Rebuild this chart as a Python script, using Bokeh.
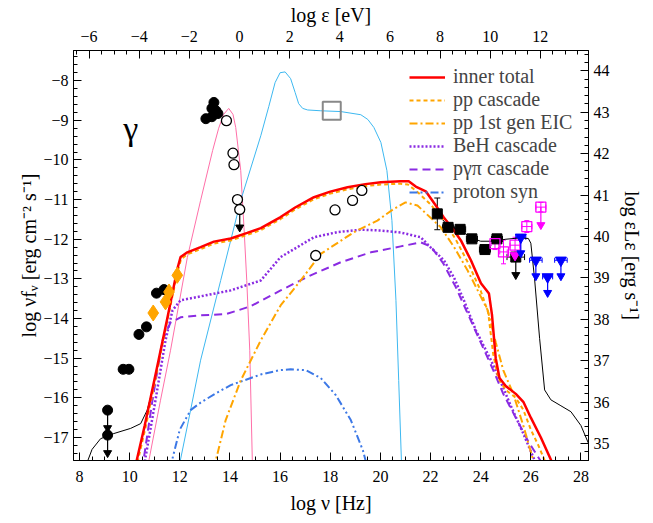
import numpy as np
from bokeh.plotting import figure
from bokeh.models import (Range1d, LinearAxis, SingleIntervalTicker, Legend, LegendItem,
                          ColumnDataSource, Whisker, TeeHead)
from bokeh.core.properties import value
from bokeh.embed import file_html
from bokeh.resources import INLINE

FONT = "Liberation Serif"
X0, X1 = 7.76, 28.3
Y0, Y1 = -17.58, -7.24
EV_OFFSET = 14.38
R0, R1 = 34.59, 44.49

# ---------------- model curves (log nu, log nuFnu) ----------------
red_x = [10.2, 10.6, 11.07, 11.5, 11.9, 12.03, 12.3, 12.83, 13.36, 14.03, 14.69, 15.23, 16.02, 16.6,
         17.35, 18.0, 18.69, 19.4, 20.02, 20.8, 21.13, 21.41, 21.81, 22.21, 22.53, 22.9, 23.21, 23.61,
         24.01, 24.33, 24.45, 24.6, 24.75, 25.0, 25.4, 25.7, 26.0, 26.4, 26.9]
red_y = [-17.8, -16.7, -15.3, -14.0, -12.75, -12.45, -12.33, -12.2, -12.06, -11.98, -11.84, -11.72, -11.44, -11.2,
         -10.94, -10.8, -10.69, -10.61, -10.56, -10.54, -10.54, -10.67, -10.79, -11.15, -11.45, -11.75, -12.03, -12.53,
         -13.11, -13.37, -13.9, -15.0, -15.5, -15.7, -15.9, -16.1, -16.5, -17.0, -17.7]

ppc_x = [10.25, 10.65, 11.1, 11.5, 11.92, 12.05, 12.3, 12.83, 13.36, 14.03, 14.69, 15.23, 16.02, 16.6,
         17.35, 18.0, 18.69, 19.4, 20.02, 20.8, 21.1, 21.5, 22.0, 22.5, 23.0, 23.5, 24.0, 24.3, 24.5,
         24.7, 25.0, 25.4, 25.7, 26.0, 26.3, 26.7]
ppc_y = [-17.8, -16.7, -15.3, -14.05, -12.8, -12.5, -12.38, -12.25, -12.11, -12.03, -11.89, -11.77, -11.49, -11.25,
         -10.99, -10.85, -10.74, -10.66, -10.62, -10.6, -10.62, -10.82, -11.12, -11.5, -12.0, -12.6, -13.3, -13.85, -14.9,
         -15.5, -15.8, -16.0, -16.3, -16.8, -17.2, -17.8]

eic_x = [13.35, 13.83, 14.43, 15.23, 16.02, 16.82, 17.62, 18.95, 19.88, 20.5, 21.0, 21.48, 22.41, 22.94,
         23.48, 23.88, 24.28, 24.6, 24.9, 25.3, 25.7, 26.2]
eic_y = [-17.8, -16.56, -15.56, -14.55, -13.67, -13.04, -12.37, -11.82, -11.53, -11.25, -11.07, -11.15, -11.7, -12.2,
         -12.79, -13.29, -13.79, -14.6, -15.3, -15.9, -16.7, -17.8]

beh_x = [10.55, 11.03, 11.43, 11.71, 12.03, 12.83, 14.03, 15.23, 16.02, 17.35, 18.29, 19.22, 20.02, 20.81,
         21.61, 22.01, 22.53, 22.93, 23.33, 23.81, 24.41, 24.8, 25.2, 25.7, 26.3]
beh_y = [-17.8, -16.06, -14.55, -13.79, -13.54, -13.44, -13.29, -13.04, -12.45, -11.95, -11.82, -11.76, -11.78, -11.83,
         -11.95, -12.21, -12.53, -12.96, -13.54, -14.3, -15.05, -15.6, -16.2, -16.9, -17.8]

pgp_x = [10.5, 10.91, 11.31, 11.63, 12.03, 12.83, 13.83, 14.83, 16.02, 17.22, 18.42, 19.62, 20.81, 21.61,
         22.01, 22.5, 23.0, 23.5, 24.0, 24.5, 24.9, 25.4, 25.9, 26.6]
pgp_y = [-17.8, -16.06, -14.55, -14.1, -13.97, -13.92, -13.89, -13.69, -13.29, -12.91, -12.58, -12.33, -12.18, -12.08,
         -12.18, -12.6, -13.2, -13.9, -14.6, -15.3, -15.9, -16.5, -17.1, -17.8]

psyn_x = [11.6, 12.0, 12.43, 12.83, 13.4, 14.03, 15.23, 16.0, 16.42, 17.02, 17.62, 18.22, 18.82, 19.3, 19.5]
psyn_y = [-17.8, -16.8, -16.31, -16.12, -15.9, -15.68, -15.41, -15.3, -15.28, -15.3, -15.5, -15.93, -16.56, -17.32, -17.8]

star_x = [10.7, 11.23, 11.63, 12.3, 12.83, 13.31, 13.55, 13.75, 13.95, 14.12, 14.23, 14.43, 14.56, 14.67, 14.79, 14.9]
star_y = [-17.8, -16.06, -14.8, -12.46, -11.02, -9.76, -9.2, -8.85, -8.7, -8.85, -9.18, -10.27, -11.7, -13.04, -14.8, -17.8]

disk_x = [11.95, 12.43, 12.83, 13.63, 14.43, 15.23, 15.55, 15.8, 16.0, 16.2, 16.42, 16.6, 16.74, 16.9, 17.1, 17.62,
          18.42, 19.22, 19.5, 19.74, 20.02, 20.26, 20.46, 20.62, 20.73, 20.85]
disk_y = [-17.8, -16.31, -15.05, -13.04, -11.02, -9.39, -8.65, -8.05, -7.8, -7.78, -7.95, -8.3, -8.58, -8.7, -8.74,
          -8.76, -8.78, -8.86, -8.98, -9.18, -9.56, -10.27, -11.53, -13.54, -15.56, -17.8]

blk_lo_x = [8.2, 8.5, 8.84, 9.37, 10.04, 10.44, 10.7, 10.85]
blk_lo_y = [-17.8, -17.3, -17.03, -16.9, -16.77, -16.65, -16.31, -15.95]

blk_hi_x = [22.27, 22.7, 23.2, 23.65, 24.0, 24.5, 25.0, 25.5, 25.9, 26.0, 26.15, 26.35, 26.55, 26.8,
            27.2, 27.6, 28.0, 28.4]
blk_hi_y = [-11.36, -11.66, -11.78, -11.97, -12.05, -12.05, -12.0, -11.97, -11.98, -12.1, -13.0, -14.5, -15.8,
            -16.05, -16.2, -16.35, -16.7, -17.3]

# ---------------- data points ----------------
radio_x = [9.12, 9.12, 9.74, 9.97, 10.37, 10.67, 11.07, 11.37]
radio_y = [-16.31, -16.94, -15.28, -15.28, -14.4, -14.21, -13.36, -13.27]
radio_lim = [1, 1, 0, 0, 0, 0, 0, 0]

dia_x = [10.94, 11.43, 11.57, 11.9]
dia_y = [-13.86, -13.58, -13.33, -12.91]

ir_x = [13.36, 13.28, 13.44, 13.04, 13.28, 13.52]
ir_y = [-8.55, -8.7, -8.76, -8.96, -8.91, -8.83]

open_x = [13.86, 14.12, 14.16, 14.3, 14.39, 17.42, 18.19, 18.89, 19.26]
open_y = [-9.01, -9.83, -10.12, -11.0, -11.25, -12.41, -11.26, -11.02, -10.77]
open_lim = [0, 0, 0, 0, 1, 0, 0, 0, 0]

sq_gray_x = [18.06]
sq_gray_y = [-8.76]

fermi_x = [22.27, 22.7, 23.18, 23.65, 24.17, 24.65, 25.4]
fermi_y = [-11.36, -11.7, -11.75, -11.99, -12.26, -11.99, -12.45]
fermi_xerr = [0.12, 0.22, 0.22, 0.22, 0.22, 0.22, 0.35]
fermi_yerr = [0.4, 0.05, 0.05, 0.05, 0.05, 0.05, 0.0]
fermi_lim = [0, 0, 0, 0, 0, 0, 1]

mag_x = [24.57, 24.91, 25.37, 25.84, 26.4]
mag_y = [-12.11, -12.32, -12.15, -11.68, -11.19]
mag_xerr = [0.15, 0.15, 0.2, 0.2, 0.2]
mag_yerr = [0.15, 0.3, 0.2, 0.15, 0.12]
mag_lim = [0, 0, 0, 0, 1]
mag_ul_x = [25.37]
mag_ul_y = [-12.4]

blue_x = [25.6, 26.2, 26.67, 27.2]
blue_y = [-11.95, -12.53, -12.95, -12.53]
blue_xerr = [0.2, 0.25, 0.2, 0.25]

# ---------------- figure ----------------
p = figure(width=653, height=523, x_range=Range1d(X0, X1), y_range=Range1d(Y0, Y1),
           output_backend="svg", toolbar_location=None,
           min_border_left=73, min_border_right=65, min_border_top=50, min_border_bottom=63,
           x_axis_label="log ν [Hz]", y_axis_label="log νfᵥ [erg cm⁻² s⁻¹]")
p.background_fill_color = "white"
p.border_fill_color = "white"
p.outline_line_color = "black"
p.outline_line_width = 1
p.xgrid.visible = False
p.ygrid.visible = False

p.extra_x_ranges = {"ev": Range1d(X0 - EV_OFFSET, X1 - EV_OFFSET)}
p.extra_y_ranges = {"lum": Range1d(R0, R1)}
top = LinearAxis(x_range_name="ev", axis_label="log ε [eV]")
right = LinearAxis(y_range_name="lum", axis_label="log εLε [erg s⁻¹]")
p.add_layout(top, "above")
p.add_layout(right, "right")

p.xaxis.ticker = SingleIntervalTicker(interval=2, num_minor_ticks=4)
p.yaxis.ticker = SingleIntervalTicker(interval=1, num_minor_ticks=5)
for ax in list(p.xaxis) + list(p.yaxis):
    ax.major_tick_in = 8
    ax.major_tick_out = 0
    ax.minor_tick_in = 4
    ax.minor_tick_out = 0
    ax.axis_line_color = "black"
    ax.major_tick_line_color = "black"
    ax.minor_tick_line_color = "black"
    ax.major_label_text_font = FONT
    ax.major_label_text_font_size = "16px"
    ax.major_label_text_color = "black"
    ax.axis_label_text_font = FONT
    ax.axis_label_text_font_size = "20px"
    ax.axis_label_text_font_style = "normal"
    ax.axis_label_text_color = "black"
    ax.major_label_standoff = 5
    ax.axis_label_standoff = 8
top.major_label_standoff = 9
top.axis_label_standoff = 2
p.below[0].major_label_standoff = 10
p.below[0].axis_label_standoff = 7
p.left[0].axis_label_standoff = 0

# ---- model lines ----
p.line(star_x, star_y, color="#FF6FA8", line_width=1)
p.line(disk_x, disk_y, color="#3DB8F0", line_width=1)
p.line(blk_lo_x, blk_lo_y, color="black", line_width=1)
p.line(blk_hi_x, blk_hi_y, color="black", line_width=1)

r_psyn = p.line(psyn_x, psyn_y, color="#3C78E6", line_width=2, line_dash="8 3 2 3 2 3")
r_pgp = p.line(pgp_x, pgp_y, color="#8A2BE2", line_width=2, line_dash="8 5")
r_beh = p.line(beh_x, beh_y, color="#8A2BE2", line_width=2.5, line_dash="2 2")
r_eic = p.line(eic_x, eic_y, color="#FFA500", line_width=2, line_dash="8 3 2 3")
r_ppc = p.line(ppc_x, ppc_y, color="#FFA500", line_width=2, line_dash="4 3")
r_red = p.line(red_x, red_y, color="#FF0000", line_width=2.5)

# ---- data ----
def arrows(xs, ys, flags, color, length=0.45):
    ax_, y0_, y1_ = [], [], []
    for x, y, f in zip(xs, ys, flags):
        if f:
            ax_.append(x); y0_.append(y); y1_.append(y - length)
    p.segment(ax_, y0_, ax_, y1_, color=color, line_width=1.2)
    p.scatter(ax_, y1_, marker="inverted_triangle", size=8, color=color)

p.scatter(sq_gray_x, sq_gray_y, marker="square", size=18, fill_color=None, line_color="#888888", line_width=2)

arrows(radio_x, radio_y, radio_lim, "black")
p.scatter(radio_x, radio_y, marker="circle", size=10, color="black")
p.scatter(dia_x, dia_y, marker="diamond", size=16, color="#FFA500")
p.scatter(ir_x, ir_y, marker="circle", size=10, color="black")
arrows(open_x, open_y, open_lim, "black")
p.scatter(open_x, open_y, marker="circle", size=10, fill_color="white", line_color="black", line_width=1.3)

# Fermi
fsrc = ColumnDataSource(dict(x=fermi_x, y=fermi_y,
                             xl=[a - b for a, b in zip(fermi_x, fermi_xerr)],
                             xu=[a + b for a, b in zip(fermi_x, fermi_xerr)],
                             yl=[a - b for a, b in zip(fermi_y, fermi_yerr)],
                             yu=[a + b for a, b in zip(fermi_y, fermi_yerr)]))
p.add_layout(Whisker(source=fsrc, base="y", lower="xl", upper="xu", dimension="width", line_color="black",
                     lower_head=TeeHead(size=6, line_color="black"), upper_head=TeeHead(size=6, line_color="black")))
p.add_layout(Whisker(source=fsrc, base="x", lower="yl", upper="yu", dimension="height", line_color="black",
                     lower_head=TeeHead(size=6, line_color="black"), upper_head=TeeHead(size=6, line_color="black")))
arrows(fermi_x, fermi_y, fermi_lim, "black")
p.scatter("x", "y", source=fsrc, marker="square", size=10, color="black")

# magenta
msrc = ColumnDataSource(dict(x=mag_x, y=mag_y,
                             xl=[a - b for a, b in zip(mag_x, mag_xerr)],
                             xu=[a + b for a, b in zip(mag_x, mag_xerr)],
                             yl=[a - b for a, b in zip(mag_y, mag_yerr)],
                             yu=[a + b for a, b in zip(mag_y, mag_yerr)]))
p.add_layout(Whisker(source=msrc, base="y", lower="xl", upper="xu", dimension="width", line_color="#FF00FF",
                     lower_head=TeeHead(size=5, line_color="#FF00FF"), upper_head=TeeHead(size=5, line_color="#FF00FF")))
p.add_layout(Whisker(source=msrc, base="x", lower="yl", upper="yu", dimension="height", line_color="#FF00FF",
                     lower_head=TeeHead(size=5, line_color="#FF00FF"), upper_head=TeeHead(size=5, line_color="#FF00FF")))
arrows(mag_x, mag_y, mag_lim, "#FF00FF")
p.scatter("x", "y", source=msrc, marker="square", size=10, fill_color=None, line_color="#FF00FF", line_width=1.3)
p.scatter(mag_ul_x, mag_ul_y, marker="inverted_triangle", size=10, color="#FF00FF")

# blue upper limits
bsrc = ColumnDataSource(dict(x=blue_x, y=blue_y,
                             xl=[a - b for a, b in zip(blue_x, blue_xerr)],
                             xu=[a + b for a, b in zip(blue_x, blue_xerr)]))
p.add_layout(Whisker(source=bsrc, base="y", lower="xl", upper="xu", dimension="width", line_color="#0000FF",
                     lower_head=TeeHead(size=5, line_color="#0000FF"), upper_head=TeeHead(size=5, line_color="#0000FF")))
arrows(blue_x, blue_y, [1] * len(blue_x), "#0000FF", length=0.4)
p.scatter(blue_x, blue_y, marker="inverted_triangle", size=11, color="#0000FF")

# gamma label
p.text([10.04], [-9.2], text=["γ"], text_font=value(FONT), text_font_size="34px",
       text_align="center", text_baseline="middle", text_color="black")

legend = Legend(items=[
    LegendItem(label="inner total", renderers=[r_red]),
    LegendItem(label="pp cascade", renderers=[r_ppc]),
    LegendItem(label="pp 1st gen EIC", renderers=[r_eic]),
    LegendItem(label="BeH cascade", renderers=[r_beh]),
    LegendItem(label="pγπ cascade", renderers=[r_pgp]),
    LegendItem(label="proton syn", renderers=[r_psyn]),
], location=(336, 257))
legend.label_text_font = FONT
legend.label_text_font_size = "20px"
legend.label_text_line_height = 1.0
legend.label_height = 20
legend.glyph_height = 20
legend.glyph_width = 36
legend.spacing = 0
legend.padding = 4
legend.label_standoff = 8
legend.border_line_color = None
legend.background_fill_alpha = 0
p.add_layout(legend)

open("out.html", "w").write(file_html(p, INLINE))
